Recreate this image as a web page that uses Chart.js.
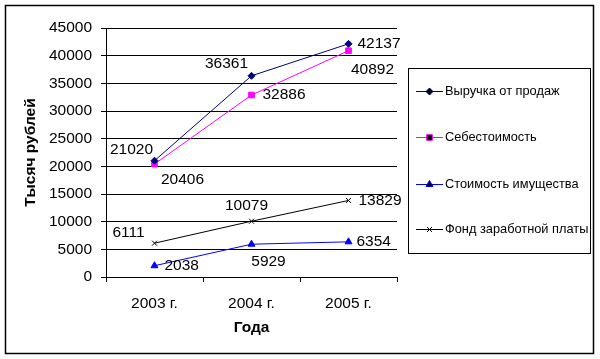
<!DOCTYPE html>
<html>
<head>
<meta charset="utf-8">
<script src="https://cdn.jsdelivr.net/npm/chart.js@4"></script>
<style>
  html, body { margin: 0; padding: 0; background: #fff; }
  #wrap { width: 600px; height: 359px; position: relative; }
</style>
</head>
<body>
<div id="wrap"><canvas id="chart"></canvas></div>
<script>
const years = ["2003 г.", "2004 г.", "2005 г."];
const revenue = [21020, 36361, 42137];      // Выручка от продаж
const costPrice = [20406, 32886, 40892];    // Себестоимость
const propertyValue = [2038, 5929, 6354];   // Стоимость имущества
const wageFund = [6111, 10079, 13829];      // Фонд заработной платы
const yTicksMax = 45000;
const yTicksStep = 5000;

const FONT = "'Liberation Sans', Arial, sans-serif";

// label placement per point: [dx, dy, align]
const labelPos = [
  [[-23, -11, "center"], [-25, -12, "center"], [9, 0, "left"]],
  [[28, 16, "center"], [11, 0, "left"], [24, 19, "center"]],
  [[10, 0, "left"], [17, 18, "center"], [8, 0, "left"]],
  [[-26, -10, "center"], [-5, -16, "center"], [10, 0, "left"]]
];

const labelsPlugin = {
  id: "pointLabels",
  afterDatasetsDraw(chart) {
    const ctx = chart.ctx;
    ctx.save();
    ctx.font = "15.5px " + FONT;
    ctx.fillStyle = "#000";
    ctx.textBaseline = "middle";
    chart.data.datasets.forEach((ds, i) => {
      chart.getDatasetMeta(i).data.forEach((pt, j) => {
        const [dx, dy, align] = labelPos[i][j];
        ctx.textAlign = align;
        ctx.fillText(String(ds.data[j]), pt.x + dx, pt.y + dy);
      });
    });
    ctx.restore();
  }
};

const frameLegendPlugin = {
  id: "frameLegend",
  beforeDraw(chart) {
    const ctx = chart.ctx;
    ctx.save();
    ctx.strokeStyle = "#000";
    ctx.lineWidth = 1.5;
    ctx.strokeRect(5.5, 5.5, 588, 348);
    ctx.restore();
  },
  afterDraw(chart) {
    const ctx = chart.ctx;
    ctx.save();
    ctx.strokeStyle = "#000";
    ctx.lineWidth = 1;
    ctx.strokeRect(408.5, 68.5, 182, 185);
    const rows = [91, 137, 184, 229];
    ctx.font = "12.8px " + FONT;
    ctx.textBaseline = "middle";
    ctx.textAlign = "left";
    chart.data.datasets.forEach((ds, i) => {
      const y = rows[i] + 0.5;
      ctx.strokeStyle = ds.borderColor;
      ctx.lineWidth = 1;
      ctx.beginPath();
      ctx.moveTo(416, y);
      ctx.lineTo(443, y);
      ctx.stroke();
      Chart.helpers.drawPoint(ctx, {
        pointStyle: ds.pointStyle,
        radius: ds.pointRadius,
        borderWidth: 1
      }, 429.5, y);
      ctx.fillStyle = "#000";
      ctx.fillText(ds.label, 445, rows[i]);
    });
    ctx.restore();
  }
};

function series(label, data, color, style, radius) {
  return {
    label: label,
    data: data,
    borderColor: color,
    backgroundColor: color,
    borderWidth: 1,
    pointStyle: style,
    pointRadius: radius,
    pointHoverRadius: radius,
    pointBorderWidth: 1,
    tension: 0
  };
}

new Chart(document.getElementById("chart"), {
  type: "line",
  data: {
    labels: years,
    datasets: [
      series("Выручка от продаж", revenue, "#000080", "rectRot", 3.5),
      series("Себестоимость", costPrice, "#ff00ff", "rect", 4),
      series("Стоимость имущества", propertyValue, "#0000ff", "triangle", 4),
      series("Фонд заработной платы", wageFund, "#000000", "crossRot", 3.5)
    ]
  },
  options: {
    responsive: true,
    maintainAspectRatio: false,
    animation: false,
    events: [],
    layout: { padding: { left: 0, top: 28, right: 203, bottom: 0 } },
    plugins: { legend: { display: false }, tooltip: { enabled: false } },
    scales: {
      x: {
        offset: true,
        afterFit: s => { s.height = 82; },
        grid: { drawOnChartArea: false, drawTicks: true, tickLength: 5, color: "#000", offset: true },
        border: { color: "#000", width: 1 },
        ticks: { color: "#000", font: { family: FONT, size: 15.5 }, padding: 12, maxRotation: 0 },
        title: { display: true, text: "Года", color: "#000", font: { family: FONT, size: 15.5, weight: "bold" }, padding: { top: 0, bottom: 22 } }
      },
      y: {
        min: 0,
        max: yTicksMax,
        afterFit: s => { s.width = 106; },
        grid: { color: "#000", lineWidth: 1, tickLength: 5 },
        border: { color: "#000", width: 1 },
        ticks: { stepSize: yTicksStep, color: "#000", font: { family: FONT, size: 15.5 }, padding: 9, callback: v => String(v) },
        title: { display: true, text: "Тысяч рублей", color: "#000", font: { family: FONT, size: 15.5, weight: "bold" }, padding: { top: 21, bottom: 0 } }
      }
    }
  },
  plugins: [labelsPlugin, frameLegendPlugin]
});
</script>
</body>
</html>
